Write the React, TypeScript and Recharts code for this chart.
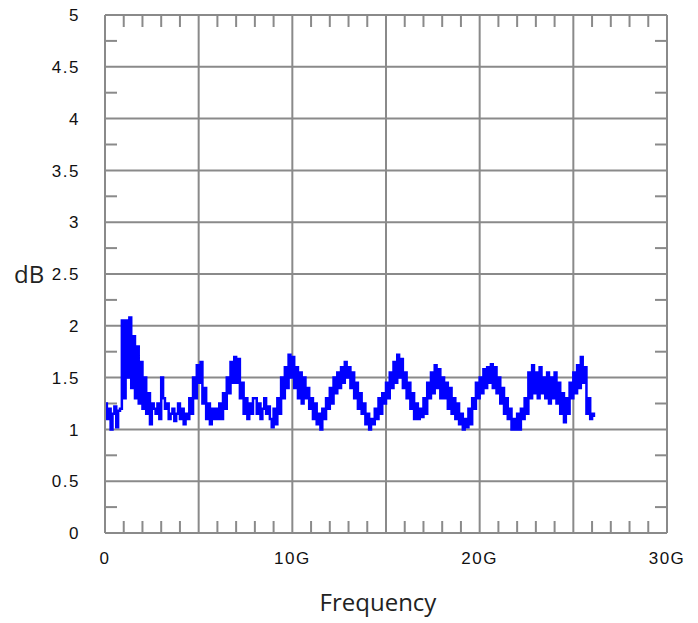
import React from "react";
import { LineChart, Line, XAxis, YAxis, CartesianGrid, Label, ReferenceLine } from "recharts";

// measured loss, one value every 0.1 GHz from 0 to 26.1 GHz
const dbValues = [
  1.25, 1.1, 1.2, 1.0, 1.15, 1.22, 1.02, 1.18, 1.2, 2.05,
  1.3, 2.05, 1.5, 2.08, 1.4, 1.9, 1.3, 1.8, 1.25, 1.65,
  1.2, 1.5, 1.15, 1.35, 1.05, 1.25, 1.2, 1.15, 1.25, 1.1,
  1.5, 1.3, 1.2, 1.25, 1.1, 1.15, 1.2, 1.08, 1.15, 1.25,
  1.1, 1.2, 1.05, 1.15, 1.1, 1.3, 1.15, 1.5, 1.3, 1.62,
  1.45, 1.65, 1.25, 1.4, 1.1, 1.25, 1.05, 1.2, 1.1, 1.2,
  1.1, 1.25, 1.1, 1.35, 1.2, 1.5, 1.35, 1.65, 1.45, 1.7,
  1.45, 1.68, 1.3, 1.45, 1.15, 1.3, 1.1, 1.25, 1.15, 1.3,
  1.3, 1.15, 1.25, 1.1, 1.2, 1.3, 1.15, 1.22, 1.1, 1.02,
  1.2, 1.05, 1.3, 1.15, 1.5, 1.3, 1.6, 1.4, 1.72, 1.5,
  1.7, 1.4, 1.6, 1.3, 1.55, 1.25, 1.5, 1.3, 1.4, 1.2,
  1.3, 1.1, 1.25, 1.05, 1.15, 1.0, 1.2, 1.1, 1.3, 1.2,
  1.4, 1.25, 1.5, 1.35, 1.55, 1.4, 1.6, 1.45, 1.65, 1.5,
  1.6, 1.4, 1.55, 1.3, 1.45, 1.2, 1.35, 1.15, 1.25, 1.05,
  1.15, 1.0, 1.1, 1.05, 1.2, 1.1, 1.3, 1.15, 1.35, 1.25,
  1.45, 1.3, 1.55, 1.4, 1.65, 1.45, 1.72, 1.5, 1.68, 1.4,
  1.55, 1.3, 1.45, 1.2, 1.35, 1.1, 1.25, 1.1, 1.2, 1.12,
  1.3, 1.15, 1.45, 1.3, 1.55, 1.35, 1.62, 1.4, 1.58, 1.3,
  1.5, 1.3, 1.45, 1.2, 1.4, 1.15, 1.3, 1.1, 1.25, 1.05,
  1.15, 1.0, 1.1, 1.02, 1.2, 1.05, 1.3, 1.2, 1.45, 1.3,
  1.5, 1.35, 1.58, 1.4, 1.6, 1.45, 1.63, 1.4, 1.6, 1.35,
  1.5, 1.25, 1.4, 1.15, 1.3, 1.1, 1.2, 1.0, 1.1, 1.0,
  1.15, 1.0, 1.2, 1.1, 1.3, 1.15, 1.55, 1.3, 1.62, 1.35,
  1.55, 1.3, 1.6, 1.35, 1.5, 1.3, 1.55, 1.25, 1.5, 1.3,
  1.55, 1.25, 1.45, 1.15, 1.35, 1.07, 1.3, 1.15, 1.45, 1.3,
  1.55, 1.35, 1.62, 1.4, 1.7, 1.45, 1.6, 1.15, 1.3, 1.1,
  1.15, 1.12,
];
const freqStep = 0.1; // GHz between samples

const xMinor = [
  1, 2, 3, 4, 6, 7, 8, 9, 11, 12, 13, 14, 16, 17, 18, 19,
  21, 22, 23, 24, 26, 27, 28, 29,
];
const xGrid = [0, 5, 10, 15, 20, 25, 30];
const xLabelTicks = [0, 10, 20, 30];
const xLabels: Record<number, string> = { 0: "0", 10: "10G", 20: "20G", 30: "30G" };

const yGrid = [0, 0.5, 1, 1.5, 2, 2.5, 3, 3.5, 4, 4.5, 5];
const yMinor = [0.25, 0.75, 1.25, 1.75, 2.25, 2.75, 3.25, 3.75, 4.25, 4.75];

const data = dbValues.map((db, i) => ({ f: Math.round(i * freqStep * 10) / 10, db }));

const GRID = "#8a8a8a";
const TICK_FONT = { fontFamily: "Liberation Sans", fontSize: 17, letterSpacing: 1.5, fill: "#111" };
const TITLE_FONT = { fontFamily: "Open Sans", fontSize: 24, fill: "#222" };

const BottomTick = (props: any) => {
  const { x, y, payload } = props;
  return (
    <text x={x} y={y} dy="0.71em" textAnchor="middle" {...TICK_FONT}>
      {xLabels[payload.value]}
    </text>
  );
};

const LeftTick = (props: any) => {
  const { x, y, payload } = props;
  return (
    <text x={x} y={y} dy="0.36em" textAnchor="end" {...TICK_FONT}>
      {String(payload.value)}
    </text>
  );
};

// short inward ticks at both ends of a minor grid position
const VerticalMinor = (props: any) => {
  const { x1, y1, y2 } = props;
  const top = Math.min(y1, y2);
  const bottom = Math.max(y1, y2);
  return (
    <g>
      <line x1={x1} x2={x1} y1={top} y2={top + 12} stroke={GRID} strokeWidth={2} />
      <line x1={x1} x2={x1} y1={bottom} y2={bottom - 12} stroke={GRID} strokeWidth={2} />
    </g>
  );
};

const HorizontalMinor = (props: any) => {
  const { x1, x2, y1 } = props;
  const left = Math.min(x1, x2);
  const right = Math.max(x1, x2);
  return (
    <g>
      <line x1={left} x2={left + 12} y1={y1} y2={y1} stroke={GRID} strokeWidth={2} />
      <line x1={right} x2={right - 12} y1={y1} y2={y1} stroke={GRID} strokeWidth={2} />
    </g>
  );
};

export default function App() {
  return (
    <div style={{ position: "absolute", left: 0, top: 0 }}>
      <LineChart
        width={698}
        height={623}
        data={data}
        margin={{ top: 15, right: 31, left: 0, bottom: 0 }}
      >
        <CartesianGrid
          horizontalValues={yGrid}
          verticalValues={xGrid}
          stroke={GRID}
          strokeWidth={2}
        />
        <XAxis
          dataKey="f"
          type="number"
          domain={[0, 30]}
          ticks={xLabelTicks}
          interval={0}
          height={90}
          tickSize={19}
          tickMargin={0}
          tickLine={{ stroke: "none" }}
          axisLine={{ stroke: GRID, strokeWidth: 2 }}
          tick={<BottomTick />}
        >
          <Label value="Frequency" position="insideBottom" offset={12} dx={-8} style={TITLE_FONT} />
        </XAxis>
        <YAxis
          type="number"
          domain={[0, 5]}
          ticks={yGrid}
          interval={0}
          width={105}
          tickSize={25}
          tickMargin={0}
          tickLine={{ stroke: "none" }}
          axisLine={{ stroke: GRID, strokeWidth: 2 }}
          tick={<LeftTick />}
        >
          <Label value="dB" position="insideLeft" offset={14} style={TITLE_FONT} />
        </YAxis>
        {xMinor.map((v) => (
          <ReferenceLine key={`x${v}`} x={v} shape={<VerticalMinor />} />
        ))}
        {yMinor.map((v) => (
          <ReferenceLine key={`y${v}`} y={v} shape={<HorizontalMinor />} />
        ))}
        <Line
          type="stepAfter"
          dataKey="db"
          stroke="#0000ff"
          strokeWidth={2.5}
          dot={false}
          isAnimationActive={false}
        />
      </LineChart>
    </div>
  );
}
